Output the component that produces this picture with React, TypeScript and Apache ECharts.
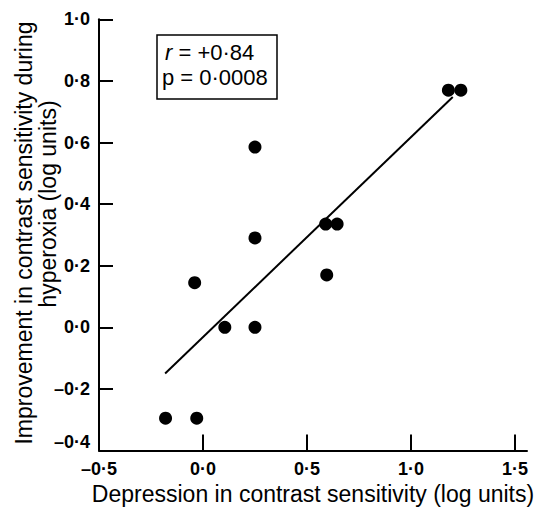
import React, { useEffect, useRef } from "react";
import * as echarts from "echarts";

// Depression in contrast sensitivity (x) vs improvement during hyperoxia (y)
const depression = [0.25, 1.18, 1.24, 0.25, 0.59, 0.645, 0.595, -0.04, 0.105, 0.25, -0.18, -0.03];
const improvement = [0.585, 0.77, 0.77, 0.29, 0.335, 0.335, 0.17, 0.145, 0.0, 0.0, -0.295, -0.295];

// Regression line end points
const fitX = [-0.182, 1.201];
const fitY = [-0.15, 0.748];

// Tick values
const xLabelValues = [-0.5, 0, 0.5, 1.0, 1.5];
const xTickValues = [0, 0.5, 1.0, 1.5];
const yLabelValues = [-0.4, -0.2, 0, 0.2, 0.4, 0.6, 0.8, 1.0];
const yTickValues = [-0.2, 0, 0.2, 0.4, 0.6, 0.8, 1.0];

const statLines = ["{it|r} = +0·84", "p = 0·0008"];
const xTitle = "Depression in contrast sensitivity (log units)";
const yTitleLines = ["Improvement in contrast sensitivity during", "hyperoxia (log units)"];

const FONT = "'Liberation Sans', Arial, Helvetica, sans-serif";

const fmt = (v: number) => v.toFixed(1).replace("-", "–").replace(".", "·");

export default function App() {
  const ref = useRef<HTMLDivElement>(null);
  useEffect(() => {
    document.body.style.margin = "0";
    const chart = echarts.init(ref.current!, null, { renderer: "svg" });
    const points = depression.map((x, i) => [x, improvement[i]]);
    const fit = fitX.map((x, i) => [x, fitY[i]]);
    chart.setOption({
      animation: false,
      backgroundColor: "#fff",
      textStyle: { fontFamily: FONT, color: "#000" },
      grid: { left: 99, right: 14, top: 19.3, bottom: 57.5, containLabel: false, outerBoundsMode: "none" },
      xAxis: {
        type: "value",
        min: -0.5,
        max: 1.558,
        interval: 0.5,
        name: xTitle,
        nameLocation: "middle",
        nameGap: 31,
        nameTextStyle: { fontSize: 23, color: "#000", fontFamily: FONT },
        axisLine: { show: true, onZero: false, lineStyle: { color: "#000", width: 2 } },
        axisTick: { show: true, inside: true, length: 16, customValues: xTickValues, lineStyle: { color: "#000", width: 2 } },
        axisLabel: {
          customValues: xLabelValues,
          formatter: (v: number) => fmt(v),
          fontSize: 18,
          fontWeight: "bold",
          color: "#000",
          margin: 9,
          fontFamily: FONT,
        },
        splitLine: { show: false },
      },
      yAxis: {
        type: "value",
        min: -0.4,
        max: 1.0,
        interval: 0.2,
        axisLine: { show: true, onZero: false, lineStyle: { color: "#000", width: 2 } },
        axisTick: { show: true, inside: true, length: 14, customValues: yTickValues, lineStyle: { color: "#000", width: 2 } },
        axisLabel: {
          customValues: yLabelValues,
          formatter: (v: number) => fmt(v),
          fontSize: 18,
          fontWeight: "bold",
          color: "#000",
          margin: 9,
          fontFamily: FONT,
          verticalAlignMinLabel: "bottom",
        },
        splitLine: { show: false },
      },
      graphic: [
        {
          type: "rect",
          shape: { x: 157, y: 35, width: 120, height: 64 },
          style: { fill: "none", stroke: "#000", lineWidth: 1.5 },
        },
        {
          type: "text",
          x: 165,
          y: 52,
          style: {
            text: statLines[0],
            fontSize: 22,
            fontFamily: FONT,
            fill: "#000",
            verticalAlign: "middle",
            rich: { it: { fontStyle: "italic", fontSize: 22, fontFamily: FONT, fill: "#000" } },
          },
        },
        {
          type: "text",
          x: 162,
          y: 77,
          style: { text: statLines[1], fontSize: 22, fontFamily: FONT, fill: "#000", verticalAlign: "middle" },
        },
        {
          type: "text",
          x: 24,
          y: 233,
          rotation: Math.PI / 2,
          style: { text: yTitleLines[0], fontSize: 23, fontFamily: FONT, fill: "#000", align: "center", verticalAlign: "middle" },
        },
        {
          type: "text",
          x: 48,
          y: 204,
          rotation: Math.PI / 2,
          style: { text: yTitleLines[1], fontSize: 23, fontFamily: FONT, fill: "#000", align: "center", verticalAlign: "middle" },
        },
      ],
      series: [
        {
          type: "line",
          data: fit,
          showSymbol: false,
          symbol: "none",
          lineStyle: { color: "#000", width: 2 },
          silent: true,
        },
        {
          type: "scatter",
          data: points,
          symbol: "circle",
          symbolSize: 13,
          itemStyle: { color: "#000", opacity: 1 },
        },
      ],
    });
    return () => chart.dispose();
  }, []);
  return <div ref={ref} style={{ width: 541, height: 508, position: "absolute", left: 0, top: 0 }} />;
}
